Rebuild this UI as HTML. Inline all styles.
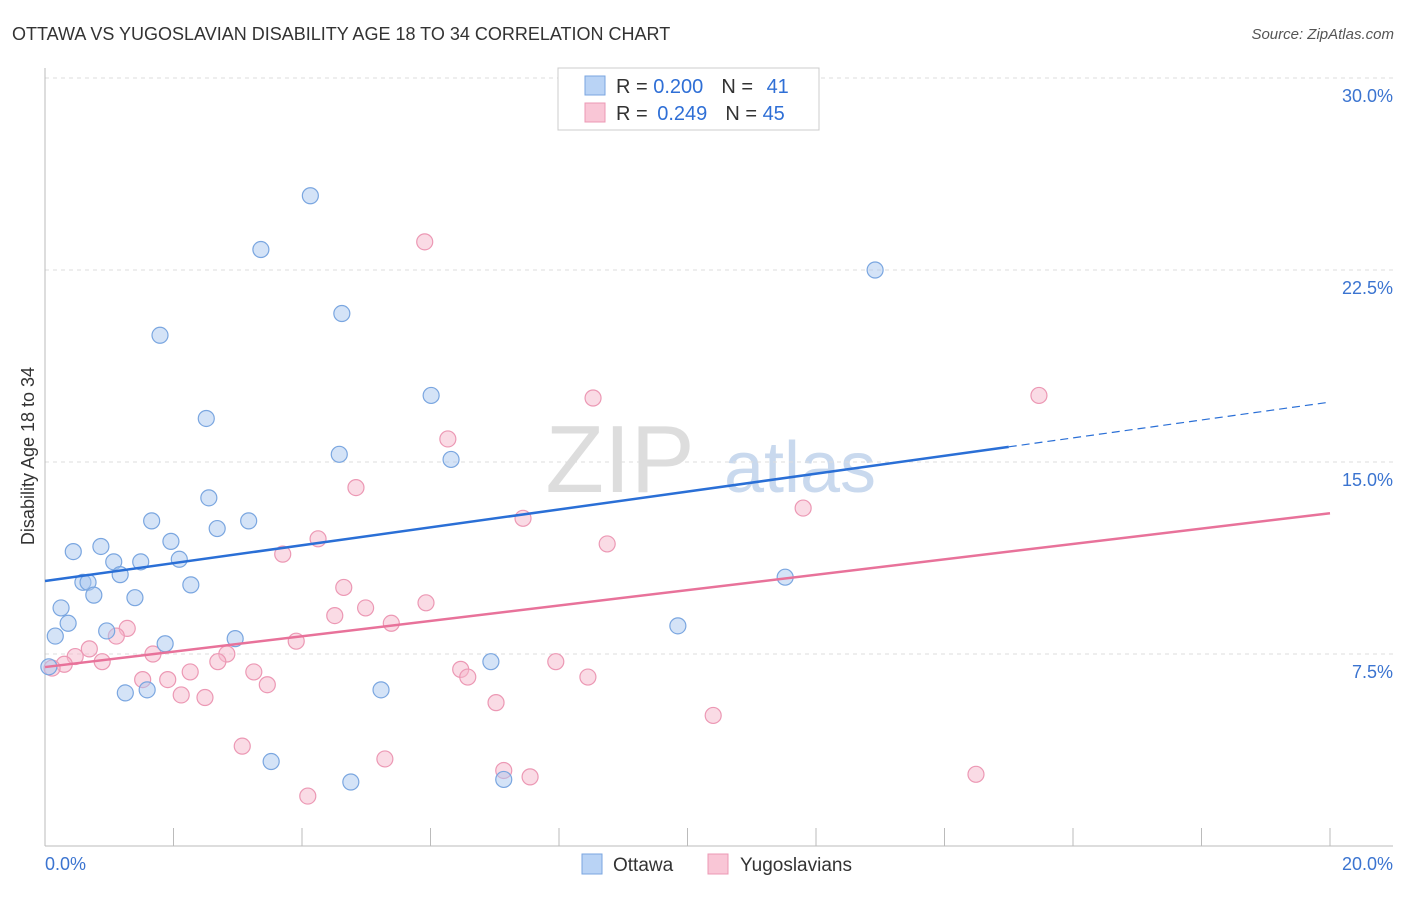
<!DOCTYPE html>
<html><head><meta charset="utf-8"><style>
body{margin:0;background:#fff;font-family:"Liberation Sans",sans-serif;}
svg text{font-family:"Liberation Sans",sans-serif;}
</style></head><body>
<svg id="c" width="1406" height="892">
<text x="12" y="40" font-size="18" fill="#333">OTTAWA VS YUGOSLAVIAN DISABILITY AGE 18 TO 34 CORRELATION CHART</text>
<text x="1394" y="39" font-size="15" fill="#555" text-anchor="end" font-style="italic">Source: ZipAtlas.com</text>
<text x="620" y="492" font-size="96" fill="#ddd" font-family="Liberation Serif" text-anchor="middle">ZIP</text>
<text x="800" y="492" font-size="72" fill="#c9d9ee" text-anchor="middle">atlas</text>
<text transform="translate(34,456) rotate(-90)" font-size="18" fill="#333" text-anchor="middle">Disability Age 18 to 34</text>
<g id="grid"></g><g id="pts"></g><g id="lines"></g>
<g>
<rect x="558" y="68" width="261" height="62" fill="#fff" stroke="#ccc"/>
<rect x="585" y="76" width="20" height="19" fill="#b9d3f5" stroke="#7aa6e0"/>
<rect x="585" y="103" width="20" height="19" fill="#f9c6d6" stroke="#ec98b4"/>
<text x="616" y="93" font-size="20" fill="#333">R = <tspan fill="#2f6fd6">0.200</tspan><tspan dx="18">N = </tspan><tspan fill="#2f6fd6" dx="8">41</tspan></text>
<text x="616" y="120" font-size="20" fill="#333">R = <tspan fill="#2f6fd6" dx="4">0.249</tspan><tspan dx="18">N = </tspan><tspan fill="#2f6fd6">45</tspan></text>
</g>
<g>
<rect x="582" y="854" width="20" height="20" fill="#b9d3f5" stroke="#7aa6e0"/>
<text x="613" y="871" font-size="19" fill="#333">Ottawa</text>
<rect x="708" y="854" width="20" height="20" fill="#f9c6d6" stroke="#ec98b4"/>
<text x="740" y="871" font-size="19" fill="#333">Yugoslavians</text>
</g>
<text x="45" y="870" font-size="18" fill="#3b74d0">0.0%</text>
<text x="1393" y="870" font-size="18" fill="#3b74d0" text-anchor="end">20.0%</text>
</svg>
<script>
const yTicks=[7.5,15,22.5,30];
const yLabels=["7.5%","15.0%","22.5%","30.0%"];
const ottawaX=[4.13,3.36,4.62,12.92,1.79,2.51,6.01,4.58,6.32,2.55,1.66,3.17,2.68,0.44,0.87,1.96,2.09,1.07,1.49,1.17,0.59,0.67,0.76,1.40,2.27,0.25,0.36,0.16,0.96,1.87,2.96,11.52,9.85,6.94,0.06,1.25,1.59,5.23,3.52,4.76,7.14];
const ottawaY=[25.4,23.3,20.8,22.5,19.95,16.7,17.6,15.3,15.1,13.6,12.7,12.7,12.4,11.5,11.7,11.9,11.2,11.1,11.1,10.6,10.3,10.3,9.8,9.7,10.2,9.3,8.7,8.2,8.4,7.9,8.1,10.5,8.6,7.2,7.0,5.98,6.1,6.1,3.3,2.5,2.6];
const yugoX=[5.91,8.53,15.47,6.27,4.84,11.80,7.44,8.75,4.25,3.70,4.65,4.99,4.51,5.39,5.93,1.28,1.11,0.69,0.47,0.30,0.11,0.89,1.68,2.83,2.69,3.91,3.25,2.26,1.91,1.52,2.12,2.49,3.46,6.47,6.58,7.95,8.45,7.02,10.40,3.07,5.29,7.14,7.55,14.49,4.09];
const yugoY=[23.6,17.5,17.6,15.9,14.0,13.2,12.8,11.8,12.0,11.4,10.1,9.3,9.0,8.7,9.5,8.5,8.2,7.7,7.4,7.1,6.95,7.2,7.5,7.5,7.2,8.0,6.8,6.8,6.5,6.5,5.9,5.8,6.3,6.9,6.6,7.2,6.6,5.6,5.1,3.9,3.4,2.95,2.7,2.8,1.95];
const trendX=[0,20];
const ottawaTrend=[10.35,17.34];
const yugoTrend=[6.99,13.0];
const X=v=>45+v*64.25, Y=v=>846-v*25.6;
const NS="http://www.w3.org/2000/svg";
function mk(t,a,p){const e=document.createElementNS(NS,t);for(const k in a)e.setAttribute(k,a[k]);p.appendChild(e);return e;}
const g=document.getElementById('grid');
yTicks.forEach((t,i)=>{
 const l=mk('line',{x1:45,x2:1393,y1:Y(t),y2:Y(t),stroke:'#ddd','stroke-dasharray':'4,4'},g);
 
 
 const tx=mk('text',{x:1393,y:Y(t)+24,'font-size':18,fill:'#3b74d0','text-anchor':'end'},g);
 tx.textContent=yLabels[i];
 
 
});
mk('line',{x1:45,x2:45,y1:68,y2:846,stroke:'#bbb'},g);
mk('line',{x1:45,x2:1393,y1:846,y2:846,stroke:'#bbb'},g);
for(let i=0;i<=10;i++){const l=mk('line',{x1:X(i*2),x2:X(i*2),y1:828,y2:846,stroke:'#bbb'},g);
 
 }
const p=document.getElementById('pts');
yugoX.forEach((v,i)=>{const c=mk('circle',{cx:X(v),cy:Y(yugoY[i]),r:8,fill:'rgba(246,183,203,0.5)',stroke:'#ec98b4','stroke-width':1.2},p);
 
 });
ottawaX.forEach((v,i)=>{const c=mk('circle',{cx:X(v),cy:Y(ottawaY[i]),r:8,fill:'rgba(170,200,240,0.5)',stroke:'#7aa6e0','stroke-width':1.2},p);
 
 });
const L=document.getElementById('lines');
const xs=15.0, ym=ottawaTrend[0]+(ottawaTrend[1]-ottawaTrend[0])*(xs-trendX[0])/(trendX[1]-trendX[0]);
let a=mk('line',{x1:X(trendX[0]),y1:Y(ottawaTrend[0]),x2:X(xs),y2:Y(ym),stroke:'#2a6fd6','stroke-width':2.5},L);


a=mk('line',{x1:X(xs),y1:Y(ym),x2:X(trendX[1]),y2:Y(ottawaTrend[1]),stroke:'#2a6fd6','stroke-width':1.2,'stroke-dasharray':'8,5'},L);


a=mk('line',{x1:X(trendX[0]),y1:Y(yugoTrend[0]),x2:X(trendX[1]),y2:Y(yugoTrend[1]),stroke:'#e8729a','stroke-width':2.5},L);


</script>
</body></html>
